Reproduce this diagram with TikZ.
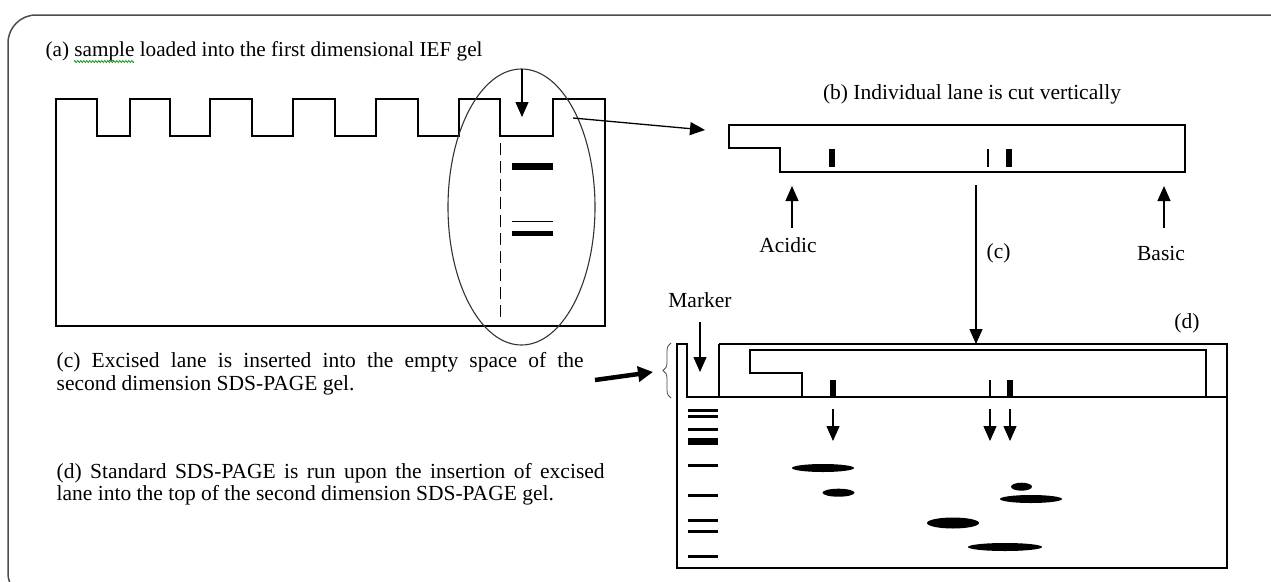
\documentclass[tikz,border=0pt]{standalone}
\usepackage{fontspec}
\setmainfont{Liberation Serif}
\usetikzlibrary{arrows.meta,decorations.pathreplacing,decorations.pathmorphing,shapes.geometric}
\begin{document}
\begin{tikzpicture}[x=1pt,y=-1pt,line width=1.3pt,
  txt/.style={font=\fontsize{21.5}{22.5}\selectfont, inner sep=0pt, anchor=base west},
  ctxt/.style={txt, anchor=base},
  arr/.style={-{Triangle[length=15pt,width=13pt]}},
  bigarr/.style={line width=4.5pt,-{Triangle[length=15pt,width=15pt]}},
  band/.style={line width=3pt},
  spot/.style={fill=black},
  frame/.style={draw=black!70, line width=1.5pt, rounded corners=28pt},
]
\useasboundingbox (0,0) rectangle (1271,581);
\clip (0,0) rectangle (1271,581);
\fill[white] (0,0) rectangle (1271,581);
% outer frame
\draw[frame] (8,15) rectangle (1296,601);

% ---------- texts ----------
\node[txt, font=\fontsize{21.2}{22}\selectfont] (ta) at (45,56) {(a) sample loaded into the first dimensional IEF gel};
\draw[green!55!black, line width=0.7pt, decorate, decoration={zigzag,segment length=3pt,amplitude=1pt}] (74,61.5) -- (134,61.5);
\node[ctxt] (tb) at (972,99) {(b) Individual lane is cut vertically};
\node[ctxt] (tacid) at (788,252) {Acidic};
\node[ctxt] (tbasic) at (1161,260) {Basic};
\node[txt] (tc) at (986,258) {(c)};
\node[ctxt] (tmark) at (700,307) {Marker};
\node[ctxt] (td) at (1187,328) {(d)};
\node[txt] (c1) at (56,367) {\makebox[527pt][s]{(c) Excised lane is inserted into the empty space of the}};
\node[txt] (c2) at (56,390) {second dimension SDS-PAGE gel.};
\node[txt] (d1) at (56,478) {\makebox[548pt][s]{(d) Standard SDS-PAGE is run upon the insertion of excised}};
\node[txt] (d2) at (56,500) {lane into the top of the second dimension SDS-PAGE gel.};

% ---------- (a) IEF gel ----------
\draw (56,326) -- (56,99) -- (97,99) -- (97,136) -- (130,136) -- (130,99)
  -- (170,99) -- (170,136) -- (210,136) -- (210,99)
  -- (252,99) -- (252,136) -- (293,136) -- (293,99)
  -- (335,99) -- (335,136) -- (376,136) -- (376,99)
  -- (418,99) -- (418,136) -- (459,136) -- (459,99)
  -- (500,99) -- (500,136) -- (553,136) -- (553,99)
  -- (605,99) -- (605,326) -- cycle;
\draw[line width=1.3pt, dash pattern=on 12pt off 6pt] (500.7,143) -- (500.7,318);
\draw[line width=6.5pt] (512,166.7) -- (553,166.7);
\draw[line width=1.3pt] (512,221.7) -- (553,221.7);
\draw[line width=5.5pt] (512,233.7) -- (553,233.7);
\node[draw, ellipse, line width=1.1pt, draw=black!80, minimum width=147pt, minimum height=276pt, inner sep=0pt] (sel) at (521.5,207) {};
\coordinate (wellTop) at (522,69);
\coordinate (wellTip) at (522,117);
\draw[arr] (wellTop) -- (wellTip);
\coordinate (aS) at (573,118);
\coordinate (aE) at (705,130);
\draw[arr] (aS) -- (aE);

% ---------- (b) strip ----------
\draw (729,125) -- (1185,125) -- (1185,172) -- (780,172) -- (780,148) -- (729,148) -- cycle;
\draw[line width=6pt] (832,149) -- (832,167);
\draw[line width=1.3pt] (988,149) -- (988,167);
\draw[line width=6pt] (1009,149) -- (1009,167);
\coordinate (acS) at (792,228); \coordinate (acE) at (792,186);
\draw[arr] (acS) -- (acE);
\coordinate (baS) at (1164,228); \coordinate (baE) at (1164,186);
\draw[arr] (baS) -- (baE);
\coordinate (cS) at (976,185); \coordinate (cE) at (976,344);
\draw[arr] (cS) -- (cE);

% ---------- (d) SDS-PAGE gel ----------
\draw (719,344) -- (1227,344) -- (1227,568) -- (677,568) -- (677,344) -- (687,344) -- (687,397) -- (1227,397);
\draw (719,344) -- (719,397);
\draw (802,397) -- (802,373) -- (750,373) -- (750,350) -- (1206,350) -- (1206,397);
\draw[line width=6pt] (833,380) -- (833,397);
\draw[line width=1.3pt] (990,380) -- (990,397);
\draw[line width=6pt] (1010,380) -- (1010,397);
\foreach \yy in {410,416.7,429,465,495,520,531.7,556.7}
  \draw[band] (688,\yy) -- (718,\yy);
\draw[line width=7pt] (688,441) -- (718,441);
\coordinate (mS) at (700,322); \coordinate (mE) at (700,372);
\draw[arr] (mS) -- (mE);
\draw[line width=0.8pt, draw=black!70, decorate, decoration={brace,amplitude=8pt}] (671,398) -- (671,343);
\coordinate (tS) at (595,380); \coordinate (tE) at (653,372);
\draw[bigarr] (tS) -- (tE);
\foreach \xx [count=\i] in {833,990,1010}{
  \coordinate (g\i S) at (\xx,409);
  \coordinate (g\i E) at (\xx,441);
  \draw[arr] (g\i S) -- (g\i E);
}
\fill[spot] (823,468) ellipse [x radius=31pt, y radius=4pt];
\fill[spot] (838.5,492.7) ellipse [x radius=16pt, y radius=4pt];
\fill[spot] (1021.5,486.7) ellipse [x radius=10.5pt, y radius=4pt];
\fill[spot] (1031,499) ellipse [x radius=31pt, y radius=4pt];
\fill[spot] (953,523) ellipse [x radius=26pt, y radius=5.5pt];
\fill[spot] (1005,547) ellipse [x radius=37pt, y radius=4pt];
\end{tikzpicture}
\end{document}
